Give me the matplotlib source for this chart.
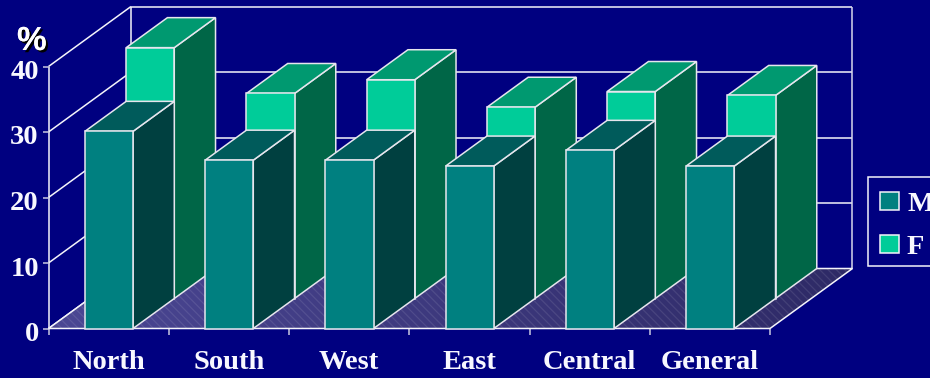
import numpy as np
import matplotlib
matplotlib.use("Agg")
import matplotlib.pyplot as plt
import matplotlib.patheffects as pe
from matplotlib.colors import LinearSegmentedColormap
from matplotlib.patches import Polygon, Patch, Rectangle
from matplotlib.transforms import ScaledTranslation

categories = ["North", "South", "West", "East", "Central", "General"]
male = [30.1, 25.7, 25.7, 24.8, 27.2, 24.8]
female = [38.3, 31.3, 33.4, 29.2, 31.6, 31.0]
y_ticks = [0, 10, 20, 30, 40]
series_names = ["M", "F"]

BG = "#000080"
LINE = "#f4f4fa"
M_FACES = ("#008080", "#005b5b", "#004040")
F_FACES = ("#00cc99", "#009970", "#006647")
BAR_WIDTH = 0.40
DEPTH_X = 0.686   # oblique shift of the full depth, category units
DEPTH_Y = 9.16    # oblique shift of the full depth, value units

plt.rcParams["font.family"] = ["Liberation Serif", "DejaVu Serif"]
plt.rcParams["font.weight"] = "bold"
plt.rcParams["hatch.linewidth"] = 0.9

W, H = 930, 378
fig = plt.figure(figsize=(W / 100, H / 100), dpi=100, facecolor=BG)
ax = fig.add_axes([48.5 / W, 1 - 328.5 / H, 721.5 / W, 262 / H], facecolor="none")
for spine in ax.spines.values():
    spine.set_visible(False)


def pt(x, v, d):
    """Oblique projection of (category position, value, depth 0..1)."""
    return (x + d * DEPTH_X, v + d * DEPTH_Y)


def line(p, q, color=LINE, lw=1.1, zorder=1):
    ax.plot([p[0], q[0]], [p[1], q[1]], color=color, lw=lw, clip_on=False,
            solid_capstyle="butt", zorder=zorder)


n = len(categories)

# back wall, side wall and gridlines
for t in y_ticks:
    line(pt(0, t, 1), pt(n, t, 1))
    line(pt(0, t, 0), pt(0, t, 1))
line(pt(0, 0, 0), pt(0, 40, 0))
line(pt(0, 0, 1), pt(0, 40, 1))
line(pt(n, 0, 1), pt(n, 40, 1), color="#d8d8ec")

# floor: shaded from left to right, with a faint woven texture
floor = [pt(0, 0, 0), pt(n, 0, 0), pt(n, 0, 1), pt(0, 0, 1)]
floor_cmap = LinearSegmentedColormap.from_list("floor", ["#4b4794", "#2e2a66"])
floor_clip = Polygon(floor, closed=True, transform=ax.transData)
shade = ax.imshow(np.linspace(0, 1, 256)[None, :], cmap=floor_cmap, aspect="auto",
                  extent=(0, n + DEPTH_X, 0, DEPTH_Y), zorder=2, interpolation="bilinear")
shade.set_clip_box(fig.bbox)
shade.set_clip_path(floor_clip)
ax.add_patch(Polygon(floor, closed=True, facecolor="none", edgecolor="#ffffff18",
                     hatch="\\\\\\\\", lw=0, clip_on=False, zorder=2))
ax.add_patch(Polygon(floor, closed=True, facecolor="none", edgecolor=LINE, lw=1.1,
                     clip_on=False, zorder=2))
ax.set_xlim(0, n)
ax.set_ylim(0, 40)


def draw_bar(i, value, d0, d1, faces, z):
    x0 = i + 0.5 - BAR_WIDTH / 2 + 0.003
    x1 = x0 + BAR_WIDTH
    front = [pt(x0, 0, d0), pt(x1, 0, d0), pt(x1, value, d0), pt(x0, value, d0)]
    top = [pt(x0, value, d0), pt(x1, value, d0), pt(x1, value, d1), pt(x0, value, d1)]
    side = [pt(x1, 0, d0), pt(x1, 0, d1), pt(x1, value, d1), pt(x1, value, d0)]
    for verts, colour in zip((side, top, front), (faces[2], faces[1], faces[0])):
        ax.add_patch(Polygon(verts, closed=True, facecolor=colour, edgecolor="#e6e6ee",
                             lw=1.1, joinstyle="miter", clip_on=False, zorder=z))


for i, v in enumerate(female):
    draw_bar(i, v, 0.5, 1.0, F_FACES, 3)
for i, v in enumerate(male):
    draw_bar(i, v, 0.0, 0.5, M_FACES, 4)

# axes furniture
ax.set_yticks(y_ticks)
ax.set_xticks([i + 0.5 for i in range(n)])
ax.set_xticklabels(categories)
ax.set_xticks(range(n + 1), minor=True)
ax.tick_params(axis="x", which="major", length=0, pad=15.6, labelsize=20.5, labelcolor="#f8f8ff")
ax.tick_params(axis="x", which="minor", length=4, width=1.1, color="#c8c8e0")
ax.tick_params(axis="y", length=4, width=1.1, color="#c8c8e0", pad=3, labelsize=20.5,
               labelcolor="#f8f8ff")
nudge = ScaledTranslation(0, -3 / 100, fig.dpi_scale_trans)
for label in ax.get_yticklabels():
    label.set_transform(label.get_transform() + nudge)

# unit marker with a drop shadow
fig.text(17 / W, 1 - 50 / H, "%", family=["Liberation Sans", "DejaVu Sans"], fontsize=24,
         fontweight="bold", color="white", ha="left", va="baseline",
         path_effects=[pe.withSimplePatchShadow(offset=(1.6, -1.6), shadow_rgbFace="black", alpha=1),
                       pe.Normal()])

# legend box runs past the right edge of the figure
fig.add_artist(Rectangle((868 / W, 1 - 266 / H), 80 / W, 89 / H, transform=fig.transFigure,
                         facecolor=BG, edgecolor=LINE, lw=1.1))
handles = [Patch(facecolor=M_FACES[0], edgecolor=LINE, lw=1.1, label=series_names[0]),
           Patch(facecolor=F_FACES[0], edgecolor=LINE, lw=1.1, label=series_names[1])]
leg = fig.legend(handles=handles, loc="upper left", bbox_to_anchor=(868 / W, 1 - 180 / H),
                 bbox_transform=fig.transFigure, borderaxespad=0, fontsize=20.5, frameon=False,
                 handlelength=0.67, handleheight=0.6, handletextpad=0.28,
                 labelspacing=0.63, borderpad=0.42)
for txt in leg.get_texts():
    txt.set_color("#f8f8ff")

fig.savefig("out.png", dpi=100, facecolor=BG)
